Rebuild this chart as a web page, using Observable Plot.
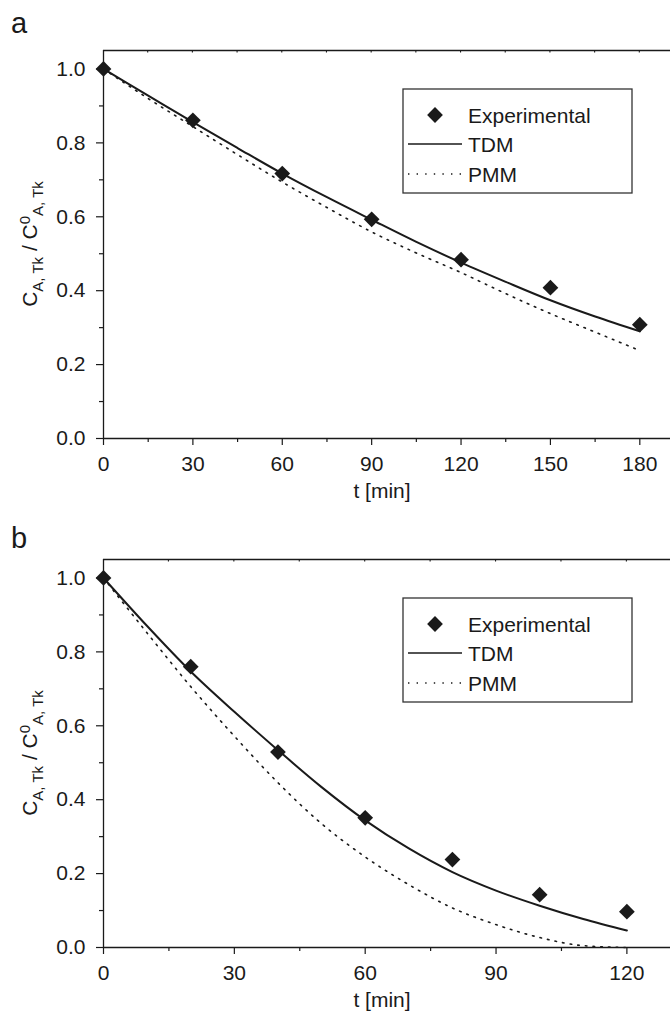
<!DOCTYPE html>
<html><head><meta charset="utf-8">
<script src="https://cdn.jsdelivr.net/npm/d3@7"></script>
<script src="https://cdn.jsdelivr.net/npm/@observablehq/plot@0.6"></script>
<style>
body{margin:0;background:#fff;}
#chart{width:670px;height:1014px;overflow:hidden;position:relative;background:#fff;}
#chart svg{display:block;}
</style></head><body><div id="chart"></div>
<script>
// ---------- Panel a data ----------
const tExpA = [0, 30, 60, 90, 120, 150, 180];
const cExpA = [1.0, 0.861, 0.717, 0.593, 0.484, 0.408, 0.308];
const tModelA = [0, 15, 30, 45, 60, 75, 90, 105, 120, 135, 150, 165, 180];
const cTdmA = [1.0, 0.928, 0.856, 0.786, 0.717, 0.653, 0.592, 0.532, 0.476, 0.424, 0.374, 0.330, 0.290];
const cPmmA = [1.0, 0.920, 0.844, 0.768, 0.694, 0.625, 0.559, 0.502, 0.449, 0.392, 0.338, 0.288, 0.238];
const xTicksA = [0, 30, 60, 90, 120, 150, 180];
const xMinorA = [15, 45, 75, 105, 135, 165];
const xTopA = [15, 30, 45, 60, 75, 90, 105, 120, 135, 150, 165, 180];

// ---------- Panel b data ----------
const tExpB = [0, 20, 40, 60, 80, 100, 120];
const cExpB = [1.0, 0.760, 0.529, 0.351, 0.238, 0.143, 0.097];
const tModelB = [0, 10, 20, 30, 40, 50, 60, 70, 80, 90, 100, 110, 120];
const cTdmB = [1.0, 0.870, 0.747, 0.638, 0.534, 0.434, 0.344, 0.268, 0.204, 0.154, 0.113, 0.077, 0.046];
const cPmmB = [1.0, 0.851, 0.706, 0.572, 0.446, 0.335, 0.245, 0.170, 0.107, 0.062, 0.027, 0.005, 0.0];
const xTicksB = [0, 30, 60, 90, 120];
const xMinorB = [15, 45, 75, 105];
const xTopB = [15, 30, 45, 60, 75, 90, 105, 120];

const yTicks = [0.0, 0.2, 0.4, 0.6, 0.8, 1.0];
const yMinor = [0.1, 0.3, 0.5, 0.7, 0.9];
const legendLabels = ["Experimental", "TDM", "PMM"];
const xTitle = "t [min]";

const FONT = "'Liberation Sans', Arial, Helvetica, sans-serif";
const INK = "#1a1a1a";
const Y_MAX = 1.05;
const DOT_R = 7.1;

function panel(cfg) {
  const exp = cfg.tExp.map((t, i) => ({t, c: cfg.cExp[i]}));
  const tdm = cfg.tModel.map((t, i) => ({t, c: cfg.cTdm[i]}));
  const pmm = cfg.tModel.map((t, i) => ({t, c: cfg.cPmm[i]}));
  const svg = Plot.plot({
    width: 670,
    height: cfg.height,
    marginTop: cfg.marginTop,
    marginBottom: cfg.marginBottom,
    marginLeft: 103,
    marginRight: 0,
    style: {fontFamily: FONT, fontSize: "21px", color: INK, background: "#fff", overflow: "visible"},
    x: {domain: [0, cfg.xMax], label: null},
    y: {domain: [0, Y_MAX], label: null},
    marks: [
      Plot.axisX({ticks: cfg.xTicks, tickSize: 7, tickPadding: 11, fontSize: 21, strokeWidth: 1.2, label: null, tickFormat: d3.format("d")}),
      Plot.axisX({ticks: cfg.xMinor, tickSize: 4, strokeWidth: 1.2, label: null, tickFormat: () => ""}),
      Plot.axisY({ticks: yTicks, tickSize: 7, tickPadding: 11, fontSize: 21, strokeWidth: 1.2, label: null, tickFormat: d3.format(".1f")}),
      Plot.axisY({ticks: yMinor, tickSize: 4, strokeWidth: 1.2, label: null, tickFormat: () => ""}),
      Plot.ruleY([0], {stroke: INK, strokeWidth: 1.3}),
      Plot.ruleY([Y_MAX], {stroke: INK, strokeWidth: 1.3}),
      Plot.ruleX([0], {stroke: INK, strokeWidth: 1.3}),
      Plot.line(pmm, {x: "t", y: "c", stroke: INK, strokeWidth: 1.6, strokeDasharray: "1.6,6.1", curve: "monotone-x"}),
      Plot.line(tdm, {x: "t", y: "c", stroke: INK, strokeWidth: 2, curve: "monotone-x"}),
      Plot.dot(exp, {x: "t", y: "c", symbol: "diamond2", r: DOT_R, fill: INK, stroke: "none"})
    ]
  });
  const xs = svg.scale("x"), ys = svg.scale("y");
  const g = d3.select(svg).append("g").attr("font-family", FONT).attr("fill", INK).attr("text-anchor", "start");
  const top = ys.apply(Y_MAX);
  const bottom = ys.apply(0);
  // top-axis inward ticks
  g.selectAll("line.topTick").data(cfg.xTop).join("line")
    .attr("x1", d => xs.apply(d)).attr("x2", d => xs.apply(d))
    .attr("y1", top).attr("y2", top + 2.5)
    .attr("stroke", INK).attr("stroke-width", 1.1);
  // panel letter
  g.append("text").attr("x", 11).attr("y", cfg.letterY).attr("text-anchor", "start")
    .attr("font-size", 29).text(cfg.letter);
  // x title
  g.append("text").attr("x", 382).attr("y", bottom + 60).attr("text-anchor", "middle")
    .attr("font-size", 21).text(xTitle);
  // y title
  const cy = (top + bottom) / 2;
  const yt = g.append("text").attr("transform", `translate(37,${cy}) rotate(-90)`)
    .attr("text-anchor", "middle").attr("font-size", 21);
  yt.append("tspan").text("C");
  yt.append("tspan").attr("font-size", 15).attr("dy", 6).text("A, Tk");
  yt.append("tspan").attr("dy", -6).text(" / C");
  yt.append("tspan").attr("font-size", 15).attr("dy", -7).text("0");
  yt.append("tspan").attr("font-size", 15).attr("dy", 13).text("A, Tk");
  // legend
  const lx = 403, ly = top + 39, lw = 229, lh = 104;
  const lg = g.append("g");
  lg.append("rect").attr("x", lx).attr("y", ly).attr("width", lw).attr("height", lh)
    .attr("fill", "#fff").attr("stroke", "#333").attr("stroke-width", 1.3);
  const rows = [ly + 26, ly + 55, ly + 85];
  lg.append("path").attr("d", d3.symbol(d3.symbolDiamond2, DOT_R * DOT_R * Math.PI)())
    .attr("transform", `translate(435,${rows[0]})`).attr("fill", INK);
  lg.append("line").attr("x1", 408).attr("x2", 462).attr("y1", rows[1]).attr("y2", rows[1])
    .attr("stroke", INK).attr("stroke-width", 1.6);
  lg.append("line").attr("x1", 408).attr("x2", 462).attr("y1", rows[2]).attr("y2", rows[2])
    .attr("stroke", INK).attr("stroke-width", 1.4).attr("stroke-dasharray", "1.4,7.2");
  legendLabels.forEach((s, i) => {
    lg.append("text").attr("x", 468).attr("y", rows[i]).attr("dy", "0.36em")
      .attr("text-anchor", "start").attr("font-size", 21).text(s);
  });
  return svg;
}

const chart = document.getElementById("chart");
chart.append(panel({
  tExp: tExpA, cExp: cExpA, tModel: tModelA, cTdm: cTdmA, cPmm: cPmmA,
  xMax: 190.3, xTicks: xTicksA, xMinor: xMinorA, xTop: xTopA,
  height: 505, marginTop: 50, marginBottom: 67, letter: "a", letterY: 33
}));
chart.append(panel({
  tExp: tExpB, cExp: cExpB, tModel: tModelB, cTdm: cTdmB, cPmm: cPmmB,
  xMax: 130, xTicks: xTicksB, xMinor: xMinorB, xTop: xTopB,
  height: 509, marginTop: 54, marginBottom: 67, letter: "b", letterY: 43
}));
</script></body></html>
